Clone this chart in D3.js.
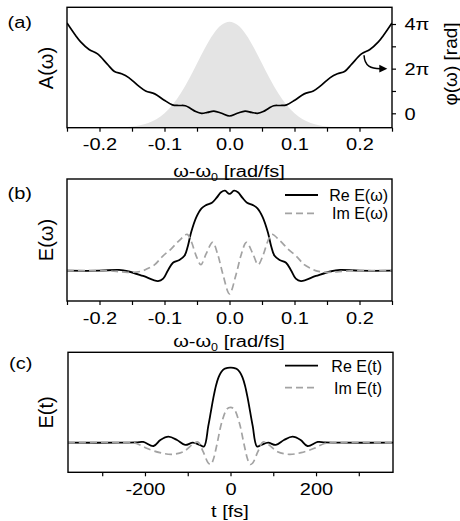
<!DOCTYPE html>
<html><head><meta charset="utf-8">
<script src="https://cdn.jsdelivr.net/npm/d3@7"></script>
<style>html,body{margin:0;padding:0;background:#fff;} svg{display:block;}</style>
</head><body>
<svg id="fig" width="460" height="521"></svg>
<script>
// ---- (a) spectral amplitude A(ω) (normalised) ----
const ampOmega = [-0.25,-0.2375,-0.225,-0.2125,-0.2,-0.1875,-0.175,-0.1625,-0.15,-0.1375,-0.125,-0.1125,-0.1,-0.0875,-0.075,-0.0625,-0.05,-0.0375,-0.025,-0.0125,0,
                  0.0125,0.025,0.0375,0.05,0.0625,0.075,0.0875,0.1,0.1125,0.125,0.1375,0.15,0.1625,0.175,0.1875,0.2,0.2125,0.225,0.2375,0.25];
const ampValue = [0,0,0,0.0001,0.0003,0.0009,0.0022,0.0051,0.0111,0.0228,0.0439,0.0796,0.1353,0.2163,0.3247,0.4578,0.6065,0.7548,0.8825,0.9692,1,
                  0.9692,0.8825,0.7548,0.6065,0.4578,0.3247,0.2163,0.1353,0.0796,0.0439,0.0228,0.0111,0.0051,0.0022,0.0009,0.0003,0.0001,0,0,0];

// ---- (a) spectral phase φ(ω), in units of π ----
const phaseOmega = [-0.25,-0.237,-0.229,-0.216,-0.203,-0.188,-0.177,-0.166,-0.155,-0.141,-0.129,-0.115,-0.101,-0.088,-0.078,-0.068,-0.06,-0.052,-0.043,-0.034,-0.024,-0.012,0,
                    0.012,0.024,0.034,0.043,0.052,0.06,0.068,0.078,0.088,0.101,0.115,0.129,0.141,0.155,0.166,0.177,0.188,0.203,0.216,0.229,0.237,0.25];
const phasePi = [4.05,3.5,3.2,2.86,2.66,2.2,1.87,1.77,1.6,1.25,1.0,0.87,0.6,0.38,0.35,0.34,0.22,0.08,0.0,0.04,0.1,0.0,-0.12,
                 0.0,0.1,0.04,0.0,0.08,0.22,0.34,0.35,0.38,0.6,0.87,1.0,1.25,1.6,1.77,1.87,2.2,2.66,2.86,3.2,3.5,4.05];

// ---- (b) spectral field E(ω) ----
const reOmega = [-0.25,-0.2,-0.17,-0.155,-0.133,-0.11,-0.102,-0.095,-0.087,-0.077,-0.069,-0.064,-0.059,-0.051,-0.043,-0.036,-0.027,-0.02,-0.013,-0.007,0,
                 0.007,0.013,0.02,0.027,0.036,0.043,0.051,0.059,0.064,0.069,0.077,0.087,0.095,0.102,0.11,0.133,0.155,0.17,0.2,0.25];
const reEw = [0,0,0.01,-0.01,-0.066,-0.13,-0.1,0,0.1,0.135,0.19,0.31,0.48,0.67,0.78,0.82,0.85,0.91,0.98,1.0,0.96,
              1.0,0.98,0.91,0.85,0.82,0.78,0.67,0.48,0.31,0.19,0.135,0.1,0,-0.1,-0.13,-0.066,-0.01,0.01,0,0];
const imOmega = [-0.25,-0.19,-0.165,-0.15,-0.135,-0.125,-0.115,-0.103,-0.09,-0.077,-0.065,-0.059,-0.051,-0.044,-0.036,-0.026,-0.018,-0.01,0,
                 0.01,0.018,0.026,0.036,0.044,0.051,0.059,0.065,0.077,0.09,0.103,0.115,0.125,0.135,0.15,0.165,0.19,0.25];
const imEw = [0,0,-0.015,-0.02,-0.005,0.03,0.075,0.18,0.27,0.38,0.455,0.37,0.18,0.075,0.21,0.355,0.2,-0.05,-0.29,
              -0.05,0.2,0.355,0.21,0.075,0.18,0.37,0.455,0.38,0.27,0.18,0.075,0.03,-0.005,-0.02,-0.015,0,0];

// ---- (c) temporal field E(t) ----
const reTime = [-380,-260,-220,-204,-180,-164,-145,-125,-106,-88,-72,-62,-52,-46,-40,-34,-28,-22,-14,-7,0,
                7,14,22,28,34,40,46,52,62,72,88,106,125,145,164,180,204,220,260,380];
const reEt = [0,0,0.005,0.01,-0.044,0.036,0.08,0.036,-0.03,0.0,-0.03,-0.05,0.22,0.41,0.6,0.76,0.87,0.94,0.985,0.998,1.0,
              0.998,0.985,0.94,0.87,0.76,0.6,0.41,0.22,-0.05,-0.03,0.0,-0.03,0.036,0.08,0.036,-0.044,0.01,0.005,0,0];
const imTime = [-380,-240,-220,-196,-165,-137,-110,-88,-76,-64,-52,-46,-40,-32,-20,-8,0,
                8,20,32,40,46,52,64,76,88,110,137,165,196,220,240,380];
const imEt = [0,0,-0.01,-0.075,-0.133,-0.155,-0.12,-0.02,0.01,-0.12,-0.27,-0.29,-0.22,-0.03,0.28,0.45,0.47,
              0.45,0.28,-0.03,-0.22,-0.29,-0.27,-0.12,0.01,-0.02,-0.12,-0.155,-0.133,-0.075,-0.01,0,0];

// ---- tick labels ----
const omegaMajor = [-0.2,-0.1,0,0.1,0.2];
const omegaMinor = [-0.25,-0.15,-0.05,0.05,0.15,0.25];
const timeMajor = [-200,0,200];
const timeMinor = [-300,-100,100,300];
const phaseTicks = [0,1,2,3,4];
const phaseTickLabels = ["0","","2π","","4π"];

const FONT = "'Liberation Sans', Arial, Helvetica, sans-serif";
const SX = 1.25; // horizontal glyph stretch
const svg = d3.select("#fig").style("font-family", FONT);

const zip = (xs, ys) => xs.map((x, i) => [x, ys[i]]);

function stretchedText(g, x, y, str, size, anchor) {
  return g.append("text")
    .attr("transform", `translate(${x},${y}) scale(${SX},1)`)
    .attr("text-anchor", anchor || "middle")
    .attr("font-size", size)
    .text(str);
}

function frame(g, L, R, T, B) {
  g.append("rect").attr("x", L).attr("y", T).attr("width", R - L).attr("height", B - T)
    .attr("fill", "none").attr("stroke", "#000").attr("stroke-width", 1.4);
}

function bottomAxis(g, x, B, major, minor, fmt) {
  const ax = g.append("g").attr("transform", `translate(0,${B})`)
    .call(d3.axisBottom(x).tickValues(major.concat(minor).sort((a, b) => a - b))
      .tickSize(4).tickFormat(d => major.includes(d) ? fmt(d) : ""));
  ax.select(".domain").remove();
  ax.selectAll(".tick line").attr("stroke", "#000").attr("stroke-width", 1.2);
  ax.selectAll(".tick text").attr("y", 0).attr("dy", 0)
    .attr("transform", `translate(0,22.5) scale(${SX},1)`)
    .attr("font-size", 16).attr("font-family", FONT).attr("fill", "#000");
  return ax;
}

function clip(id, L, R, T, B) {
  svg.append("clipPath").attr("id", id).append("rect")
    .attr("x", L).attr("y", T).attr("width", R - L).attr("height", B - T);
}

function omegaLabel(g, cx, y) {
  const t = g.append("text").attr("transform", `translate(${cx},${y}) scale(${SX},1)`)
    .attr("text-anchor", "middle").attr("font-size", 16);
  t.append("tspan").text("ω-ω");
  t.append("tspan").attr("font-size", 10).attr("dy", 4).text("0");
  t.append("tspan").attr("dy", -4).text(" [rad/fs]");
}

function rotLabel(g, x, y, str, size) {
  g.append("text").attr("transform", `translate(${x},${y}) rotate(-90)`)
    .attr("text-anchor", "middle").attr("font-size", size).text(str);
}

// ================= panel (a) =================
{
  const L = 67, R = 392, T = 7.3, B = 127.7;
  const g = svg.append("g");
  clip("clipA", L, R, T, B);
  const x = d3.scaleLinear().domain([-0.25, 0.25]).range([L, R]);
  const yA = d3.scaleLinear().domain([0, 1]).range([B, 21.7]);
  const yP = d3.scaleLinear().domain([0, 4]).range([113.3, 24]);

  g.append("path").datum(zip(ampOmega, ampValue))
    .attr("clip-path", "url(#clipA)")
    .attr("fill", "#e4e4e4")
    .attr("d", d3.area().x(d => x(d[0])).y0(yA(0)).y1(d => yA(d[1])).curve(d3.curveCatmullRom));

  g.append("path").datum(zip(phaseOmega, phasePi))
    .attr("clip-path", "url(#clipA)")
    .attr("fill", "none").attr("stroke", "#000").attr("stroke-width", 1.7)
    .attr("d", d3.line().x(d => x(d[0])).y(d => yP(d[1])).curve(d3.curveCatmullRom.alpha(0.5)));

  // arrow pointing from the phase curve to the right-hand axis
  const ax0 = x(0.207), ay0 = yP(2.6), ax1 = x(0.232), ay1 = yP(2.0);
  g.append("path")
    .attr("d", `M${ax0},${ay0} C${ax0 + 0.5},${ay0 + 11} ${ax0 + 7},${ay1} ${ax1},${ay1}`)
    .attr("fill", "none").attr("stroke", "#000").attr("stroke-width", 1.5);
  g.append("path")
    .attr("d", `M${ax1 - 1},${ay1 - 3.8} L${ax1 + 7},${ay1} L${ax1 - 1},${ay1 + 3.8} Z`)
    .attr("fill", "#000");

  frame(g, L, R, T, B);
  bottomAxis(g, x, B, omegaMajor, omegaMinor, d => d.toFixed(1));

  const ra = g.append("g").attr("transform", `translate(${R},0)`)
    .call(d3.axisRight(yP).tickValues(phaseTicks).tickSize(4)
      .tickFormat((d, i) => phaseTickLabels[i]));
  ra.select(".domain").remove();
  ra.selectAll(".tick line").attr("stroke", "#000").attr("stroke-width", 1.2);
  ra.selectAll(".tick text").attr("x", 0).attr("dy", "0.36em")
    .attr("transform", `translate(12.5,0) scale(${SX},1)`)
    .attr("font-size", 16).attr("font-family", FONT).attr("fill", "#000");

  omegaLabel(g, 229, 177);
  rotLabel(g, 53, 68, "A(ω)", 20);
  rotLabel(g, 457, 64, "φ(ω) [rad]", 19);
  stretchedText(g, 7.5, 28, "(a)", 16, "start");
}

// ================= panel (b) =================
{
  const L = 67, R = 392, T = 179, B = 301;
  const g = svg.append("g");
  clip("clipB", L, R, T, B);
  const x = d3.scaleLinear().domain([-0.25, 0.25]).range([L, R]);
  const y = d3.scaleLinear().domain([0, 1]).range([270.7, 190.7]);
  const line = d3.line().x(d => x(d[0])).y(d => y(d[1])).curve(d3.curveCatmullRom.alpha(0.5));

  g.append("path").datum(zip(reOmega, reEw)).attr("clip-path", "url(#clipB)")
    .attr("fill", "none").attr("stroke", "#000").attr("stroke-width", 1.8).attr("d", line);
  g.append("path").datum(zip(imOmega, imEw)).attr("clip-path", "url(#clipB)")
    .attr("fill", "none").attr("stroke", "#a3a3a3").attr("stroke-width", 1.7)
    .attr("stroke-dasharray", "7,4").attr("d", line);

  frame(g, L, R, T, B);
  bottomAxis(g, x, B, omegaMajor, omegaMinor, d => d.toFixed(1));
  omegaLabel(g, 229, 346.5);
  rotLabel(g, 53, 240, "E(ω)", 20);
  stretchedText(g, 7.5, 199, "(b)", 16, "start");

  // legend
  g.append("line").attr("x1", 285).attr("x2", 318).attr("y1", 195).attr("y2", 195)
    .attr("stroke", "#000").attr("stroke-width", 1.8);
  g.append("line").attr("x1", 285).attr("x2", 318).attr("y1", 213.3).attr("y2", 213.3)
    .attr("stroke", "#a3a3a3").attr("stroke-width", 1.7).attr("stroke-dasharray", "7,4");
  g.append("text").attr("x", 388).attr("y", 200.5).attr("text-anchor", "end").attr("font-size", 16).text("Re E(ω)");
  g.append("text").attr("x", 388).attr("y", 218.5).attr("text-anchor", "end").attr("font-size", 16).text("Im E(ω)");
}

// ================= panel (c) =================
{
  const L = 68, R = 393, T = 352.3, B = 472.3;
  const g = svg.append("g");
  clip("clipC", L, R, T, B);
  const x = d3.scaleLinear().domain([-380, 380]).range([L, R]);
  const y = d3.scaleLinear().domain([0, 1]).range([442.7, 367.7]);
  const line = d3.line().x(d => x(d[0])).y(d => y(d[1])).curve(d3.curveCatmullRom.alpha(0.5));

  g.append("path").datum(zip(reTime, reEt)).attr("clip-path", "url(#clipC)")
    .attr("fill", "none").attr("stroke", "#000").attr("stroke-width", 1.8).attr("d", line);
  g.append("path").datum(zip(imTime, imEt)).attr("clip-path", "url(#clipC)")
    .attr("fill", "none").attr("stroke", "#a3a3a3").attr("stroke-width", 1.7)
    .attr("stroke-dasharray", "7,4").attr("d", line);

  frame(g, L, R, T, B);
  bottomAxis(g, x, B, timeMajor, timeMinor, d => String(d));
  stretchedText(g, 230, 516.5, "t [fs]", 16, "middle");
  rotLabel(g, 53, 412.5, "E(t)", 20);
  stretchedText(g, 9, 369, "(c)", 16, "start");

  g.append("line").attr("x1", 285).attr("x2", 318).attr("y1", 365.7).attr("y2", 365.7)
    .attr("stroke", "#000").attr("stroke-width", 1.8);
  g.append("line").attr("x1", 285).attr("x2", 318).attr("y1", 387.7).attr("y2", 387.7)
    .attr("stroke", "#a3a3a3").attr("stroke-width", 1.7).attr("stroke-dasharray", "7,4");
  g.append("text").attr("x", 382).attr("y", 371.5).attr("text-anchor", "end").attr("font-size", 16).text("Re E(t)");
  g.append("text").attr("x", 382).attr("y", 393.5).attr("text-anchor", "end").attr("font-size", 16).text("Im E(t)");
}
</script>
</body></html>
